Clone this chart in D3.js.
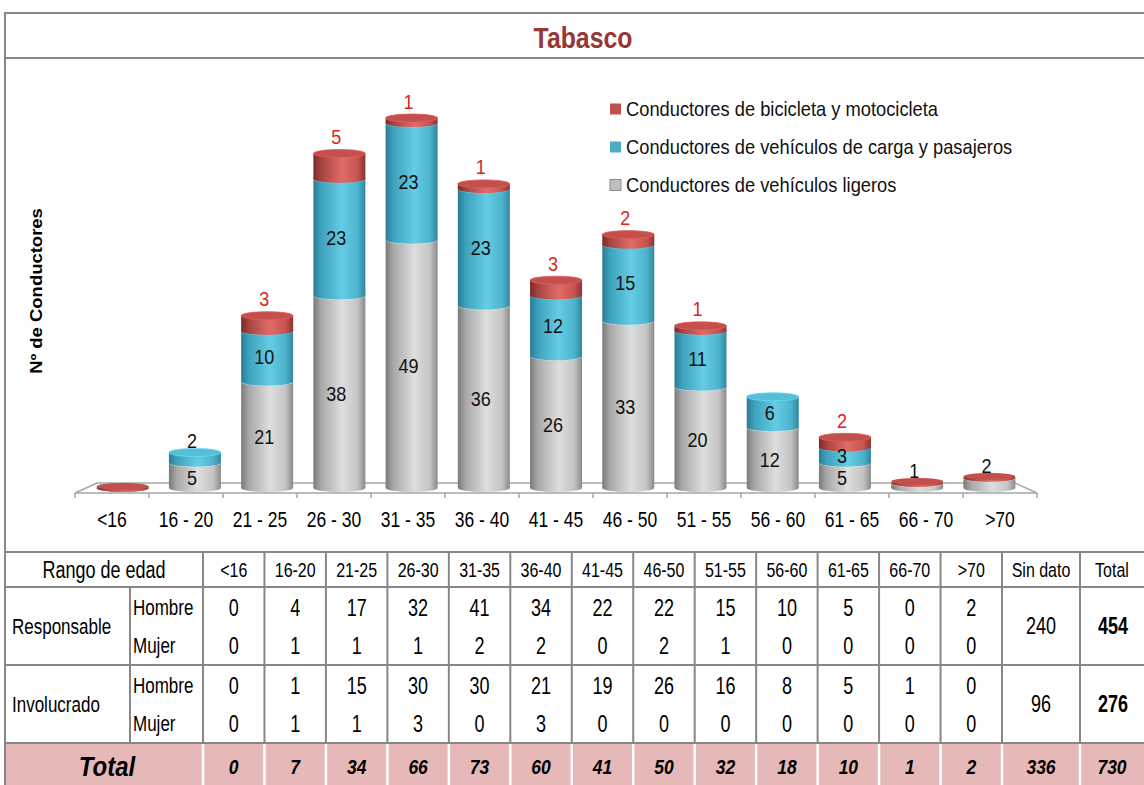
<!DOCTYPE html>
<html><head><meta charset="utf-8">
<script src="https://cdn.jsdelivr.net/npm/d3@7"></script>
<style>body{margin:0;background:#fff}svg{display:block}text{font-family:"Liberation Sans",Arial,sans-serif}</style>
</head><body><svg id="c" width="1144" height="785"></svg>
<script>
// ---------- data ----------
const title = "Tabasco";
const yTitle = "Nº de Conductores";
const categories = ["<16","16 - 20","21 - 25","26 - 30","31 - 35","36 - 40","41 - 45","46 - 50","51 - 55","56 - 60","61 - 65","66 - 70",">70"];
const seriesNames = ["Conductores de vehículos ligeros","Conductores de vehículos de carga y pasajeros","Conductores de bicicleta y motocicleta"];
const ligeros = [0,5,21,38,49,36,26,33,20,12,5,1,2];
const carga   = [0,2,10,23,23,23,12,15,11,6,3,0,0];
const bici    = [0,0,3,5,1,1,3,2,1,0,2,0,0];

const tableAgeCols = ["<16","16-20","21-25","26-30","31-35","36-40","41-45","46-50","51-55","56-60","61-65","66-70",">70"];
const tableExtraCols = ["Sin dato","Total"];
const respHombre = [0,4,17,32,41,34,22,22,15,10,5,0,2];
const respMujer  = [0,1,1,1,2,2,0,2,1,0,0,0,0];
const respSinDato = 240, respTotal = 454;
const invHombre = [0,1,15,30,30,21,19,26,16,8,5,1,0];
const invMujer  = [0,1,1,3,0,3,0,0,0,0,0,0,0];
const invSinDato = 96, invTotal = 276;
const colTotals = [0,7,34,66,73,60,41,50,32,18,10,1,2];
const sinDatoTotal = 336, grandTotal = 730;

// ---------- drawing ----------
const svg = d3.select("#c");
const grid = "#878787";
const defs = svg.append("defs");
const palettes = [
  {id:"gGrey", stops:["#7a7a7a","#a8a8a8","#dedede","#c4c4c4","#8a8a8a"], top:"#c9c9c9", solid:"#bfbfbf"},
  {id:"gCyan", stops:["#2a7c92","#3ea2bc","#64cce4","#4db4cd","#2f879d"], top:"#56bed6", solid:"#4bacc6"},
  {id:"gRed",  stops:["#7a2a28","#a64442","#e06c68","#c85450","#8c3331"], top:"#c4504d", solid:"#c0504d"}
];
palettes.forEach(p=>{
  const g = defs.append("linearGradient").attr("id",p.id).attr("x1","0").attr("x2","1").attr("y1","0").attr("y2","0");
  [0,0.15,0.55,0.85,1].forEach((o,i)=>g.append("stop").attr("offset",o).attr("stop-color",p.stops[i]));
});

function label(parent, x, y, txt, o={}) {
  return parent.append("text").attr("x",0).attr("y",0).attr("dy","0.36em")
    .attr("transform",`translate(${x},${y}) scale(${o.sx||1},${o.sy||1})`)
    .attr("text-anchor",o.anchor||"middle").attr("font-size",o.size||18)
    .attr("font-weight",o.weight||"normal").attr("font-style",o.style||"normal")
    .attr("fill",o.fill||"#000").text(txt);
}

// frame
svg.append("line").attr("x1",5).attr("x2",1144).attr("y1",13).attr("y2",13).attr("stroke",grid).attr("stroke-width",2);
svg.append("line").attr("x1",5).attr("x2",5).attr("y1",12).attr("y2",785).attr("stroke",grid).attr("stroke-width",2);
svg.append("line").attr("x1",5).attr("x2",1144).attr("y1",58).attr("y2",58).attr("stroke",grid).attr("stroke-width",2);
label(svg,583,37,title,{size:27,weight:"bold",fill:"#953735",sx:0.92,sy:1.12});

// scales
const x = d3.scaleBand().domain(categories).range([75,1037]).padding(0);
const y = d3.scaleLinear().domain([0,73]).range([488,118]);
const vanish = 558, persp = 0.024;
const barW = 52, ry = 4;
const cxOf = c => { const m = x(c)+x.bandwidth()/2; return m + (vanish-m)*persp; };

// floor
const floorFront = 493, floorBack = 483;
const backL = 75 + (vanish-75)*0.046, backR = 1037 - (1037-vanish)*0.046;
svg.append("path").attr("d",`M75,${floorFront}L${backL},${floorBack}L${backR},${floorBack}L1037,${floorFront}Z`)
  .attr("fill","none").attr("stroke","#a6a6a6").attr("stroke-width",1.5);
const tickXs = categories.map(c=>x(c)).concat([x.range()[1]]);
svg.selectAll(".tk").data(tickXs).join("line").attr("x1",d=>d).attr("x2",d=>d)
  .attr("y1",floorFront).attr("y2",floorFront+5).attr("stroke","#a6a6a6").attr("stroke-width",1.5);
const ax = svg.append("g").attr("transform",`translate(0,${floorFront})`)
  .call(d3.axisBottom(x).tickSize(0).tickPadding(14.6));
ax.select(".domain").remove();
ax.selectAll("text").attr("font-size",17.5).attr("font-family","Liberation Sans, Arial, sans-serif").attr("fill","#000")
  .attr("transform","scale(1,1.25)");

// cylinders
const series = [ligeros, carga, bici];
categories.forEach((c,i)=>{
  const g = svg.append("g");
  const cx = cxOf(c);
  let base = 0;
  series.forEach((s,k)=>{
    const v = s[i];
    const p = palettes[k];
    const y0 = y(base), y1 = y(base+v);
    const prevZero = k===0 ? true : series[k-1][i]===0;
    if (v>0) {
      g.append("ellipse").attr("cx",cx).attr("cy",y0).attr("rx",barW/2).attr("ry",ry).attr("fill",`url(#${p.id})`);
      g.append("rect").attr("x",cx-barW/2).attr("y",y1).attr("width",barW).attr("height",y0-y1).attr("fill",`url(#${p.id})`);
      g.append("ellipse").attr("cx",cx).attr("cy",y1).attr("rx",barW/2).attr("ry",ry).attr("fill",p.top)
        .attr("stroke",d3.color(p.top).brighter(0.4)).attr("stroke-width",0.8);
    } else if (prevZero) {
      g.append("ellipse").attr("cx",cx).attr("cy",y0).attr("rx",barW/2).attr("ry",ry).attr("fill",`url(#${p.id})`);
      g.append("ellipse").attr("cx",cx).attr("cy",y0-1.5).attr("rx",barW/2).attr("ry",ry-0.5).attr("fill",p.top);
    }
    base += v;
  });
  base = 0;
  series.forEach((s,k)=>{
    const v = s[i];
    if (v>0) {
      const top = y(base+v), bot = y(base);
      let ly;
      if (k===2) ly = top-17;
      else if (bot-top >= 14) ly = (top+bot)/2 + (k===0 ? 2 : 0);
      else ly = top-12;
      label(svg,cx-3,ly,v,{size:18,sy:1.16,fill:k===2?"#e0231c":"#111"});
    }
    base += v;
  });
});

// y title
svg.append("text").attr("transform","translate(42,291) rotate(-90) scale(1.12,1)").attr("text-anchor","middle")
  .attr("font-size",16.5).attr("font-weight","bold").text(yTitle);

// legend
const legOrder = [2,1,0];
legOrder.forEach((k,j)=>{
  const ly = 109 + j*38;
  svg.append("rect").attr("x",610).attr("y",ly-5.5).attr("width",11).attr("height",11)
    .attr("fill",palettes[k].solid).attr("stroke",k===0?"#8c8c8c":"none").attr("stroke-width",1);
  label(svg,626,ly,seriesNames[k],{anchor:"start",size:18.3,sy:1.08,fill:"#111"});
});

// ---------- table ----------
const tc = d3.scaleBand().domain(tableAgeCols).range([203,1002]);
const sdX0 = 1002, totX0 = 1080, totX1 = 1144;
const rowTop = 552, hdrB = 587, blkB = 665, totT = 743, bot = 785;
const rowH = (blkB-hdrB)/2;
svg.append("rect").attr("x",6).attr("y",totT).attr("width",1144-6).attr("height",bot-totT).attr("fill","#e6b9b8");
const colLines = tableAgeCols.map(c=>tc(c)).concat([sdX0,totX0]);
[rowTop,hdrB,blkB,totT].forEach(yy=>svg.append("line").attr("x1",5).attr("x2",1144).attr("y1",yy).attr("y2",yy).attr("stroke",grid).attr("stroke-width",2));
colLines.forEach(xx=>{
  svg.append("line").attr("x1",xx).attr("x2",xx).attr("y1",rowTop).attr("y2",totT).attr("stroke",grid).attr("stroke-width",2);
  svg.append("line").attr("x1",xx).attr("x2",xx).attr("y1",totT+1).attr("y2",bot).attr("stroke","#fff").attr("stroke-width",2.5);
});
svg.append("line").attr("x1",130).attr("x2",130).attr("y1",hdrB).attr("y2",totT).attr("stroke",grid).attr("stroke-width",2);

const SY = 1.28;
const T = (xx,yy,txt,o={})=>label(svg,xx,yy,txt,Object.assign({sy:SY,size:17.5},o));

const hdrY = (rowTop+hdrB)/2;
T(104,hdrY,"Rango de edad",{size:18});
tableAgeCols.forEach(c=>T(tc(c)+tc.bandwidth()/2,hdrY,c,{size:16}));
T((sdX0+totX0)/2,hdrY,tableExtraCols[0],{size:16});
T((totX0+totX1)/2,hdrY,tableExtraCols[1],{size:16});

const blocks = [
  {name:"Responsable", top:hdrB, h:respHombre, m:respMujer, sd:respSinDato, t:respTotal},
  {name:"Involucrado", top:blkB, h:invHombre, m:invMujer, sd:invSinDato, t:invTotal}
];
blocks.forEach(b=>{
  const r1 = b.top + rowH/2 + 1, r2 = b.top + rowH*1.5, mid = b.top+rowH;
  T(12,mid,b.name,{anchor:"start",size:17});
  T(133,r1,"Hombre",{anchor:"start",size:17});
  T(133,r2,"Mujer",{anchor:"start",size:17});
  tableAgeCols.forEach((c,i)=>{
    const cx = tc(c)+tc.bandwidth()/2;
    T(cx,r1,b.h[i],{size:18});
    T(cx,r2,b.m[i],{size:18});
  });
  T((sdX0+totX0)/2,mid,b.sd,{size:18});
  T((totX0+totX1)/2+1,mid,b.t,{size:18,weight:"bold"});
});
const totY = (totT+bot)/2+2;
T(107,totY,"Total",{size:24,weight:"bold",style:"italic",sy:1.18});
tableAgeCols.forEach((c,i)=>T(tc(c)+tc.bandwidth()/2,totY,colTotals[i],{size:17.5,weight:"bold",style:"italic",sy:1.2}));
T((sdX0+totX0)/2,totY,sinDatoTotal,{size:17.5,weight:"bold",style:"italic",sy:1.2});
T((totX0+totX1)/2,totY,grandTotal,{size:17.5,weight:"bold",style:"italic",sy:1.2});
</script></body></html>
